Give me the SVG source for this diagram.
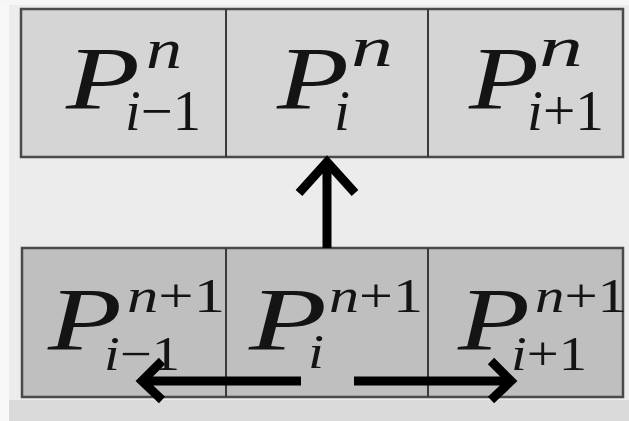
<svg xmlns="http://www.w3.org/2000/svg" width="629" height="421" viewBox="0 0 629 421">
<style>
.row-top{fill:#d5d5d5;stroke:#4a4a4a;stroke-width:2.5}
.row-bot{fill:#bfbfbf;stroke:#4a4a4a;stroke-width:2.5}
.div{stroke:#3a3a3a;stroke-width:2}
.P{font-family:"Liberation Serif",serif;font-style:italic;font-size:88px;fill:#141414}
.sc{font-family:"Liberation Serif",serif;font-size:56px;fill:#141414}
.scb{font-family:"Liberation Serif",serif;font-size:48px;fill:#141414}
.it{font-style:italic}
.rm{font-style:normal}
.arr{fill:none;stroke:#000;stroke-width:9;stroke-linecap:butt;stroke-linejoin:miter}
</style>
<rect x="0" y="0" width="629" height="421" fill="#ececec"/>
<rect x="0" y="0" width="9" height="421" fill="#f8f8f8"/>
<rect x="9" y="400" width="620" height="21" fill="#dadada"/>
<rect x="0" y="0" width="629" height="5" fill="#f6f6f6"/>

<g id="row-n">
<rect class="row-top" x="21" y="9" width="602" height="148"/>
<line class="div" x1="226" y1="9" x2="226" y2="157"/>
<line class="div" x1="428" y1="9" x2="428" y2="157"/>
</g>
<g id="row-n1">
<rect class="row-bot" x="22" y="248" width="601" height="149"/>
<line class="div" x1="226" y1="248" x2="226" y2="397"/>
<line class="div" x1="428" y1="248" x2="428" y2="397"/>
</g>

<g id="cell-top-1">
<text class="P" x="66" y="108" textLength="74" lengthAdjust="spacingAndGlyphs">P</text>
<text class="sc it" x="146" y="68" textLength="36" lengthAdjust="spacingAndGlyphs">n</text>
<text class="sc" x="125" y="130" textLength="76" lengthAdjust="spacingAndGlyphs"><tspan class="it">i</tspan><tspan class="rm">−1</tspan></text>
</g>
<g id="cell-top-2">
<text class="P" x="277" y="108" textLength="72" lengthAdjust="spacingAndGlyphs">P</text>
<text class="sc it" x="351" y="66" textLength="42" lengthAdjust="spacingAndGlyphs">n</text>
<text class="sc it" x="334" y="130" textLength="16" lengthAdjust="spacingAndGlyphs">i</text>
</g>
<g id="cell-top-3">
<text class="P" x="469" y="108" textLength="70" lengthAdjust="spacingAndGlyphs">P</text>
<text class="sc it" x="539" y="66" textLength="44" lengthAdjust="spacingAndGlyphs">n</text>
<text class="sc" x="527" y="130" textLength="77" lengthAdjust="spacingAndGlyphs"><tspan class="it">i</tspan><tspan class="rm">+1</tspan></text>
</g>

<g id="cell-bot-1">
<text class="P" x="48" y="349" textLength="74" lengthAdjust="spacingAndGlyphs">P</text>
<text class="scb" x="127" y="312" textLength="98" lengthAdjust="spacingAndGlyphs"><tspan class="it">n</tspan><tspan class="rm">+1</tspan></text>
<text class="scb" x="104" y="370" textLength="76" lengthAdjust="spacingAndGlyphs"><tspan class="it">i</tspan><tspan class="rm">−1</tspan></text>
</g>
<g id="cell-bot-2">
<text class="P" x="249" y="349" textLength="78" lengthAdjust="spacingAndGlyphs">P</text>
<text class="scb" x="329" y="312" textLength="94" lengthAdjust="spacingAndGlyphs"><tspan class="it">n</tspan><tspan class="rm">+1</tspan></text>
<text class="scb it" x="308" y="368" textLength="16" lengthAdjust="spacingAndGlyphs">i</text>
</g>
<g id="cell-bot-3">
<text class="P" x="458" y="349" textLength="72" lengthAdjust="spacingAndGlyphs">P</text>
<text class="scb" x="535" y="312" textLength="92" lengthAdjust="spacingAndGlyphs"><tspan class="it">n</tspan><tspan class="rm">+1</tspan></text>
<text class="scb" x="511" y="370" textLength="76" lengthAdjust="spacingAndGlyphs"><tspan class="it">i</tspan><tspan class="rm">+1</tspan></text>
</g>

<g id="connectors">
<path class="arr" d="M327 248 V161 M299 193 L327 162 L355 193"/>
<path class="arr" d="M301 381 H143 M162 361 L142 381 L162 400"/>
<path class="arr" d="M354 381 H510 M491 361 L511 381 L491 400"/>
</g>
</svg>
